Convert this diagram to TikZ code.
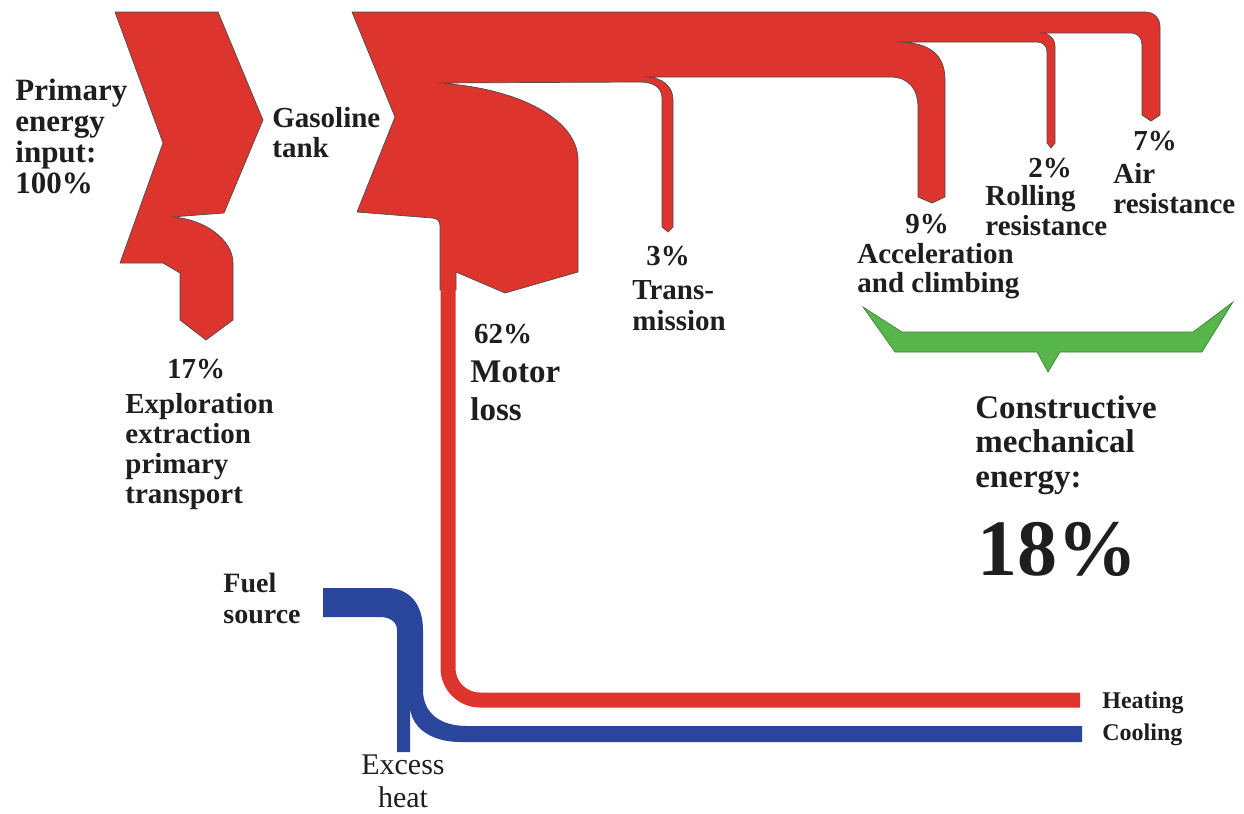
\documentclass[tikz,border=0pt]{standalone}
\usepackage{fontspec}
\setmainfont{Liberation Serif}
\usetikzlibrary{positioning}
\definecolor{flowred}{RGB}{221,52,46}
\definecolor{flowblue}{RGB}{42,70,156}
\definecolor{flowgreen}{RGB}{86,182,74}
\definecolor{ink}{RGB}{30,30,30}

\begin{document}
\begin{tikzpicture}[
  x=0.5pt, y=-0.5pt,
  flow/.style={fill=flowred, draw=black!70, line width=0.35pt, line join=round},
  pipe/.style={line width=7.5pt, rounded corners=16pt},
  lbl/.style={font=\bfseries\fontsize{14.5}{#1}\selectfont, text=ink,
              inner sep=0pt, anchor=base west, align=left},
  lbl/.default=15pt,
  pct/.style={lbl, anchor=base},
  big/.style={lbl, font=\bfseries\fontsize{16.5}{#1}\selectfont},
  key/.style={lbl, font=\bfseries\fontsize{12}{14}\selectfont}
]
\useasboundingbox (0,0) rectangle (1244,814);

\draw[flow] (115,12) -- (218,12) -- (263,120) -- (224,213) -- (172,217)
  .. controls (205,219) and (233,240) .. (233,263) -- (233,320) -- (206,340)
  -- (180,320) -- (180,273) -- (163,263) -- (120,263) -- (163,143) -- cycle;

\draw[flow] (352,12) -- (1145,12) .. controls (1154,12) and (1160,18) .. (1160,27)
  -- (1160,115) -- (1151,121) -- (1142,115) -- (1142,45)
  .. controls (1142,38) and (1138,33) .. (1130,33) -- (1040,33)
  .. controls (1049,33) and (1055,38) .. (1055,47) -- (1055,143) -- (1051,148)
  -- (1047,143) -- (1047,52) .. controls (1047,46) and (1043,42) .. (1037,42)
  -- (897,42) .. controls (930,42) and (945,55) .. (945,80) -- (945,197)
  -- (932,203) -- (918,197) -- (918,108) .. controls (918,88) and (908,77) .. (890,77)
  -- (645,77) .. controls (662,77) and (673,86) .. (673,100) -- (673,227)
  -- (668,232) -- (662,227) -- (662,98) .. controls (662,88) and (654,82) .. (640,82)
  -- (438,83) .. controls (520,88) and (578,120) .. (578,160) -- (578,272)
  -- (505,293) -- (456,272) -- (456,290) -- (440,290) -- (440,226)
  .. controls (440,221) and (437,218) .. (432,218) -- (357,212) -- (395,117) -- cycle;

\draw[pipe, flowred] (448,280) |- (1080,700);

\fill[flowblue] (323,588) -- (387,588) .. controls (410,588) and (423,605) .. (423,630)
  -- (423,690) .. controls (423,713) and (440,726) .. (467,726) -- (1082,726)
  -- (1082,742) -- (460,742) .. controls (432,742) and (410,728) .. (410,705)
  -- (410,752) -- (397,752) -- (397,630) .. controls (397,622) and (390,617) .. (380,617)
  -- (323,617) -- cycle;

\draw[fill=flowgreen, draw=flowgreen!70!black, line width=0.3pt]
  (863,307) -- (902,332) -- (1193,332) -- (1233,302) -- (1202,352) -- (1060,352)
  -- (1048,372) -- (1037,352) -- (895,352) -- cycle;

\node[lbl, font=\bfseries\fontsize{15.5}{15.5}\selectfont] (input) at (15,193) {Primary\\energy\\input:\\100\%};
\node[lbl] (tank) at (272,157) {Gasoline\\tank};
\node[pct] (pexplore) at (196,378) {17\%};
\node[lbl] (explore) at (125,503) {Exploration\\extraction\\primary\\transport};
\node[pct] (pmotor) at (503,343) {62\%};
\node[big=19pt] (motor) at (470,420) {Motor\\loss};
\node[pct] (ptrans) at (668,265) {3\%};
\node[lbl=15.5pt] (trans) at (632,330) {Trans-\\mission};
\node[pct] (paccel) at (927,233) {9\%};
\node[lbl=14.5pt] (accel) at (857,292) {Acceleration\\and climbing};
\node[pct] (proll) at (1050,177) {2\%};
\node[lbl] (roll) at (985,235) {Rolling\\resistance};
\node[pct] (pair) at (1155,150) {7\%};
\node[lbl] (air) at (1113,213) {Air\\resistance};
\node[big=17.25pt] (useful) at (975,487) {Constructive\\mechanical\\energy:};
\node[lbl, font=\bfseries\fontsize{40}{44}\selectfont] (total) at (977,575) {18\%};
\node[lbl, font=\bfseries\fontsize{14}{15.5}\selectfont] (fuel) at (223,623) {Fuel\\source};
\node[lbl, anchor=base, align=center, font=\fontsize{15}{16.5}\selectfont] (excess) at (403,807) {Excess\\heat};
\node[key] (heating) at (1102,708) {Heating};
\node[key] (cooling) at (1102,740) {Cooling};
\end{tikzpicture}
\end{document}
